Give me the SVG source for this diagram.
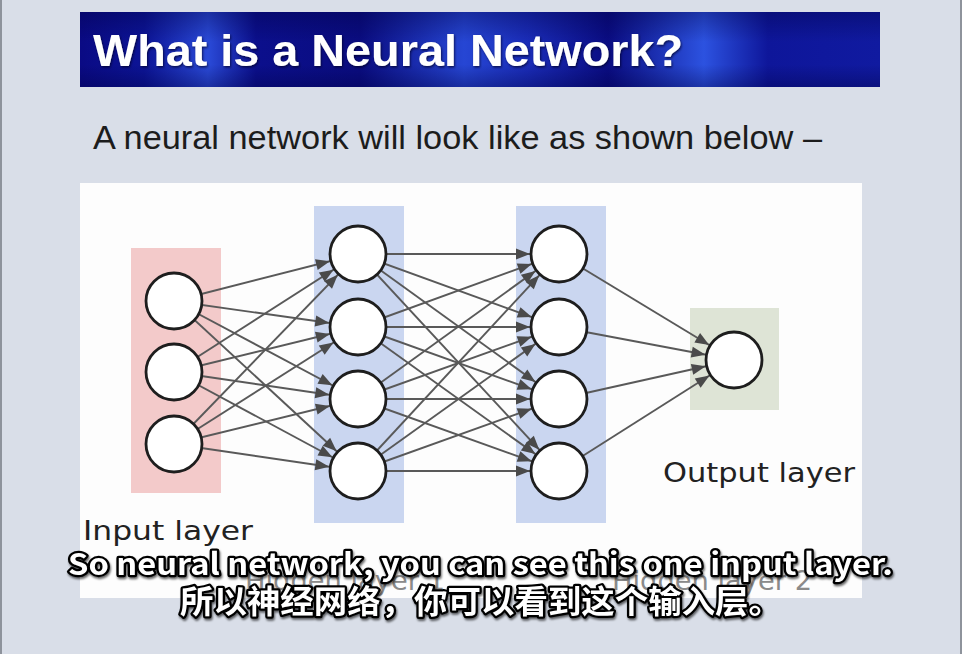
<svg xmlns="http://www.w3.org/2000/svg" width="962" height="654" viewBox="0 0 962 654">
<defs>
<linearGradient id="barH" x1="0" y1="0" x2="1" y2="0">
<stop offset="0" stop-color="#0a0a84"/>
<stop offset="0.08" stop-color="#0c1496"/>
<stop offset="0.16" stop-color="#2a4ad8"/>
<stop offset="0.22" stop-color="#0b0f8c"/>
<stop offset="0.35" stop-color="#0a0c80"/>
<stop offset="0.48" stop-color="#2646d4"/>
<stop offset="0.56" stop-color="#1a2cb8"/>
<stop offset="0.66" stop-color="#0a0c82"/>
<stop offset="0.78" stop-color="#2c52e0"/>
<stop offset="0.86" stop-color="#0e169a"/>
<stop offset="1" stop-color="#101aa0"/>
</linearGradient>
<linearGradient id="barV" x1="0" y1="0" x2="0" y2="1">
<stop offset="0" stop-color="#000040" stop-opacity="0.35"/>
<stop offset="0.4" stop-color="#000040" stop-opacity="0"/>
<stop offset="0.7" stop-color="#000040" stop-opacity="0"/>
<stop offset="1" stop-color="#000040" stop-opacity="0.35"/>
</linearGradient>
<marker id="arr" markerUnits="userSpaceOnUse" markerWidth="14" markerHeight="12" viewBox="0 -6 14 12" refX="43" refY="0" orient="auto" overflow="visible">
<path d="M0,-5.5 L14,0 L0,5.5 Z" fill="#4a4a4a"/>
</marker>
<filter id="sh" x="-5%" y="-20%" width="110%" height="140%">
<feDropShadow dx="1" dy="2" stdDeviation="0.8" flood-color="#000" flood-opacity="0.6"/>
</filter>
<filter id="tsh" x="-5%" y="-20%" width="110%" height="140%">
<feDropShadow dx="1" dy="1.5" stdDeviation="1" flood-color="#000020" flood-opacity="0.7"/>
</filter>
</defs>
<style>
.edge{stroke:#595959;stroke-width:1.9;fill:none;marker-end:url(#arr)}
.node{fill:#fff;stroke:#1e1e1e;stroke-width:2.8}
.lbl{font-family:"DejaVu Sans",Verdana,sans-serif;font-size:27px;fill:#222}
.hid{font-family:"DejaVu Sans",Verdana,sans-serif;font-size:27px;fill:#8a8a8a}
.sub{font-family:"Noto Sans CJK SC","Liberation Sans",sans-serif;font-weight:bold;fill:#fff;stroke:#000;stroke-width:4.5;paint-order:stroke;stroke-linejoin:round}
</style>
<rect x="0" y="0" width="962" height="654" fill="#d9dee8"/>
<rect x="0" y="0" width="2" height="654" fill="#8e939c"/>
<rect x="960" y="0" width="2" height="654" fill="#8e939c"/>

<g id="title">
<rect x="80" y="12" width="800" height="75" fill="url(#barH)"/>
<rect x="80" y="12" width="800" height="75" fill="url(#barV)"/>
<text x="93" y="66" font-family="'Liberation Sans',Arial,sans-serif" font-weight="bold" font-size="45" fill="#ffffff" textLength="590" lengthAdjust="spacingAndGlyphs" filter="url(#tsh)">What is a Neural Network?</text>
</g>
<g id="intro">
<text x="93" y="149" font-family="'Liberation Sans',Arial,sans-serif" font-size="34" fill="#1c1c1c" textLength="729" lengthAdjust="spacingAndGlyphs">A neural network will look like as shown below –</text>
</g>

<g id="panel">
<rect x="80" y="183" width="782" height="415" fill="#fdfdfd"/>
</g>

<g id="layers">
<rect id="input-layer-bg" x="131" y="248" width="90" height="245" fill="#f3caca"/>
<rect id="hidden1-bg" x="314" y="206" width="90" height="317" fill="#cad6f0"/>
<rect id="hidden2-bg" x="516" y="206" width="90" height="317" fill="#cad6f0"/>
<rect id="output-layer-bg" x="690" y="308" width="89" height="102" fill="#dee4d6"/>
</g>

<g id="connectors">
<line class="edge" x1="174" y1="301" x2="358" y2="254"/>
<line class="edge" x1="174" y1="301" x2="358" y2="327"/>
<line class="edge" x1="174" y1="301" x2="358" y2="399"/>
<line class="edge" x1="174" y1="301" x2="358" y2="471"/>
<line class="edge" x1="174" y1="372" x2="358" y2="254"/>
<line class="edge" x1="174" y1="372" x2="358" y2="327"/>
<line class="edge" x1="174" y1="372" x2="358" y2="399"/>
<line class="edge" x1="174" y1="372" x2="358" y2="471"/>
<line class="edge" x1="174" y1="444" x2="358" y2="254"/>
<line class="edge" x1="174" y1="444" x2="358" y2="327"/>
<line class="edge" x1="174" y1="444" x2="358" y2="399"/>
<line class="edge" x1="174" y1="444" x2="358" y2="471"/>

<line class="edge" x1="358" y1="254" x2="559" y2="254"/>
<line class="edge" x1="358" y1="254" x2="559" y2="327"/>
<line class="edge" x1="358" y1="254" x2="559" y2="399"/>
<line class="edge" x1="358" y1="254" x2="559" y2="471"/>
<line class="edge" x1="358" y1="327" x2="559" y2="254"/>
<line class="edge" x1="358" y1="327" x2="559" y2="327"/>
<line class="edge" x1="358" y1="327" x2="559" y2="399"/>
<line class="edge" x1="358" y1="327" x2="559" y2="471"/>
<line class="edge" x1="358" y1="399" x2="559" y2="254"/>
<line class="edge" x1="358" y1="399" x2="559" y2="327"/>
<line class="edge" x1="358" y1="399" x2="559" y2="399"/>
<line class="edge" x1="358" y1="399" x2="559" y2="471"/>
<line class="edge" x1="358" y1="471" x2="559" y2="254"/>
<line class="edge" x1="358" y1="471" x2="559" y2="327"/>
<line class="edge" x1="358" y1="471" x2="559" y2="399"/>
<line class="edge" x1="358" y1="471" x2="559" y2="471"/>

<line class="edge" x1="559" y1="254" x2="734" y2="360"/>
<line class="edge" x1="559" y1="327" x2="734" y2="360"/>
<line class="edge" x1="559" y1="399" x2="734" y2="360"/>
<line class="edge" x1="559" y1="471" x2="734" y2="360"/>
</g>

<g id="in1"><circle class="node" cx="174" cy="301" r="28"/></g>
<g id="in2"><circle class="node" cx="174" cy="372" r="28"/></g>
<g id="in3"><circle class="node" cx="174" cy="444" r="28"/></g>
<g id="h1a"><circle class="node" cx="358" cy="254" r="28"/></g>
<g id="h1b"><circle class="node" cx="358" cy="327" r="28"/></g>
<g id="h1c"><circle class="node" cx="358" cy="399" r="28"/></g>
<g id="h1d"><circle class="node" cx="358" cy="471" r="28"/></g>
<g id="h2a"><circle class="node" cx="559" cy="254" r="28"/></g>
<g id="h2b"><circle class="node" cx="559" cy="327" r="28"/></g>
<g id="h2c"><circle class="node" cx="559" cy="399" r="28"/></g>
<g id="h2d"><circle class="node" cx="559" cy="471" r="28"/></g>
<g id="out1"><circle class="node" cx="734" cy="360" r="28"/></g>

<g id="labels">
<text class="lbl" x="83" y="540" textLength="170" lengthAdjust="spacingAndGlyphs">Input layer</text>
<text class="lbl" x="663" y="482" textLength="192" lengthAdjust="spacingAndGlyphs">Output layer</text>
<text class="hid" x="245" y="590" textLength="200" lengthAdjust="spacingAndGlyphs">Hidden layer 1</text>
<text class="hid" x="612" y="590" textLength="200" lengthAdjust="spacingAndGlyphs">Hidden layer 2</text>
</g>

<g id="subtitles" filter="url(#sh)">
<text class="sub" x="68" y="575" font-size="30" textLength="825" lengthAdjust="spacingAndGlyphs">So neural network, you can see this one input layer.</text>
<text class="sub" x="180" y="613" font-size="32" textLength="602" lengthAdjust="spacingAndGlyphs">所以神经网络，你可以看到这个输入层。</text>
</g>
</svg>
